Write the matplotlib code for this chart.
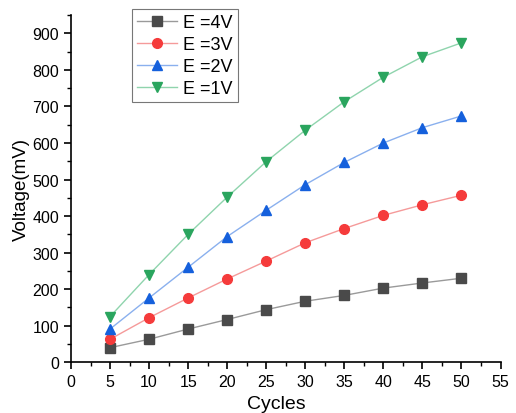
import matplotlib
matplotlib.use("Agg")
import matplotlib.pyplot as plt
from matplotlib.ticker import MultipleLocator

cycles = [5, 10, 15, 20, 25, 30, 35, 40, 45, 50]
v_4V = [40, 63, 91, 117, 144, 167, 183, 203, 217, 230]
v_3V = [63, 122, 176, 228, 277, 327, 366, 402, 431, 457]
v_2V = [91, 176, 260, 344, 416, 486, 547, 600, 642, 674]
v_1V = [125, 240, 350, 452, 549, 635, 713, 780, 836, 874]
labels = ["E =4V", "E =3V", "E =2V", "E =1V"]

plt.rcParams['font.family'] = ['Liberation Sans', 'DejaVu Sans']
fig = plt.figure(figsize=(5.16, 4.14), dpi=100)
ax = fig.add_axes([0.1376, 0.1225, 0.8324, 0.8387])

styles = [
    (v_4V, 's', '#4a4a4a', '#9a9a9a', 6.5),
    (v_3V, 'o', '#f53b3b', '#f59a9a', 7),
    (v_2V, '^', '#1560dc', '#8ab0ee', 7.5),
    (v_1V, 'v', '#2aa55e', '#8fd4ad', 7.5),
]
for (vals, m, mc, lc, ms), lab in zip(styles, labels):
    ax.plot(cycles, vals, color=lc, lw=1.0, marker=m, markersize=ms,
            markerfacecolor=mc, markeredgecolor=mc, label=lab)

ax.set_xlim(0, 55)
ax.set_ylim(0, 950)
ax.xaxis.set_major_locator(MultipleLocator(5))
ax.xaxis.set_minor_locator(MultipleLocator(2.5))
ax.yaxis.set_minor_locator(MultipleLocator(50))
ax.set_yticks(range(0, 1000, 100))
ax.set_yticklabels([str(v) for v in range(0, 1000, 100)])
for s in ['top', 'right']:
    ax.spines[s].set_visible(False)
for s in ['left', 'bottom']:
    ax.spines[s].set_linewidth(1.2)
ax.tick_params(which='major', direction='out', length=5, width=1.2, labelsize=11.5)
ax.tick_params(which='minor', direction='out', length=3, width=1.0)
ax.set_xlabel("Cycles", fontsize=14, labelpad=2)
ax.xaxis.set_label_coords(0.478, -0.095)
ax.set_ylabel("Voltage(mV)", fontsize=13.5, labelpad=2)

leg = ax.legend(loc='upper left', bbox_to_anchor=(0.142, 1.018), fontsize=13,
                frameon=True, fancybox=False, edgecolor='#555555',
                handlelength=2.2, handletextpad=0.35, borderpad=0.3,
                labelspacing=0.27, borderaxespad=0)
leg.get_frame().set_linewidth(0.8)

fig.savefig("out.png", dpi=100)
